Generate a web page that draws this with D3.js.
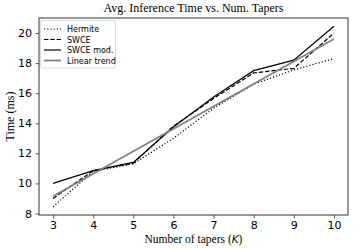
<!DOCTYPE html>
<html><head><meta charset="utf-8">
<script src="https://cdn.jsdelivr.net/npm/d3@7"></script>
<style>body{margin:0;background:#fff}svg{display:block}</style>
</head><body>
<script>
const taperCounts = [3, 4, 5, 6, 7, 8, 9, 10];
const hermite = [8.45, 10.8, 11.3, 13.0, 15.0, 16.6, 17.55, 18.3];
const swce = [9.0, 10.85, 11.35, 13.8, 15.65, 17.35, 17.65, 20.0];
const swceMod = [10.0, 10.85, 11.4, 13.75, 15.75, 17.5, 18.2, 20.45];
const trendK = [3, 10];
const trendValues = [9.15, 19.6];
const xTicks = [3, 4, 5, 6, 7, 8, 9, 10];
const yTicks = [8, 10, 12, 14, 16, 18, 20];
const seriesNames = ["Hermite", "SWCE", "SWCE mod.", "Linear trend"];

const W = 360, H = 249;
const L = 39, R = 348, T = 18, B = 215;
const svg = d3.select("body").append("svg").attr("width", W).attr("height", H);
const x = d3.scaleLinear().domain([2.65, 10.35]).range([L, R]);
const y = d3.scaleLinear().domain([7.9, 21.0]).range([B, T]);

const line = d3.line().x(d => x(d[0])).y(d => y(d[1]));
const zip = (a, b) => a.map((v, i) => [v, b[i]]);

const styles = [
  {data: zip(taperCounts, hermite), stroke: "#000", width: 1.2, dash: "1.2,2"},
  {data: zip(taperCounts, swce), stroke: "#000", width: 1.2, dash: "4.4,1.9"},
  {data: zip(taperCounts, swceMod), stroke: "#000", width: 1.2, dash: null},
  {data: zip(trendK, trendValues), stroke: "#808080", width: 1.8, dash: null}
];

const plot = svg.append("g");
styles.forEach(s => {
  plot.append("path").attr("d", line(s.data)).attr("fill", "none")
    .attr("stroke", s.stroke).attr("stroke-width", s.width)
    .attr("stroke-dasharray", s.dash);
});

// axes
const xAxis = svg.append("g").attr("transform", `translate(0,${B})`)
  .call(d3.axisBottom(x).tickValues(xTicks).tickSize(3.5).tickPadding(3).tickFormat(d3.format("d")));
const yAxis = svg.append("g").attr("transform", `translate(${L},0)`)
  .call(d3.axisLeft(y).tickValues(yTicks).tickSize(3.5).tickPadding(3.5).tickFormat(d3.format("d")));
[xAxis, yAxis].forEach(a => {
  a.select(".domain").remove();
  a.selectAll("line").attr("stroke", "#333").attr("stroke-width", 0.8);
  a.selectAll("text").attr("font-family", "DejaVu Sans").attr("font-size", 11).attr("fill", "#000");
});
// frame
svg.append("rect").attr("x", L).attr("y", T).attr("width", R - L).attr("height", B - T)
  .attr("fill", "none").attr("stroke", "#333").attr("stroke-width", 1);

// title and labels
svg.append("text").attr("x", (L + R) / 2).attr("y", 12).attr("text-anchor", "middle")
  .attr("font-family", "Liberation Serif").attr("font-size", 12).text("Avg. Inference Time vs. Num. Tapers");
const xl = svg.append("text").attr("x", (L + R) / 2).attr("y", 243).attr("text-anchor", "middle")
  .attr("font-family", "Liberation Serif").attr("font-size", 11.5);
xl.append("tspan").text("Number of tapers (");
xl.append("tspan").attr("font-family", "DejaVu Sans").attr("font-style", "italic").attr("font-size", 10.5).text("K");
xl.append("tspan").text(")");
svg.append("text").attr("transform", `translate(14,${(T + B) / 2}) rotate(-90)`).attr("text-anchor", "middle")
  .attr("font-family", "Liberation Serif").attr("font-size", 12).text("Time (ms)");

// legend
const lg = svg.append("g");
lg.append("rect").attr("x", 40.5).attr("y", 20.5).attr("width", 75).attr("height", 47.5).attr("rx", 2)
  .attr("fill", "#fff").attr("fill-opacity", 0.8).attr("stroke", "#d0d0d0").attr("stroke-width", 0.8);
seriesNames.forEach((n, i) => {
  const yy = 29 + i * 10.5;
  const s = styles[i];
  lg.append("line").attr("x1", 44).attr("x2", 61).attr("y1", yy).attr("y2", yy)
    .attr("stroke", s.stroke).attr("stroke-width", s.width).attr("stroke-dasharray", s.dash);
  lg.append("text").attr("x", 67).attr("y", yy + 3).attr("font-family", "DejaVu Sans").attr("font-size", 8).text(n);
});
</script>
</body></html>
